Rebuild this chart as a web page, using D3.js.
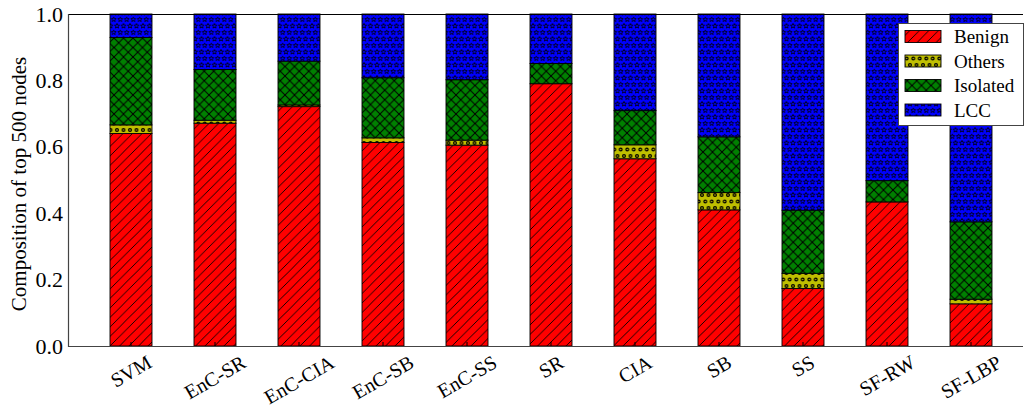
<!DOCTYPE html>
<html><head><meta charset="utf-8">
<script src="https://cdn.jsdelivr.net/npm/d3@7"></script>
<style>
body{margin:0;background:#fff}
svg{display:block}
</style>
</head><body>
<svg id="c" width="1028" height="409" font-family="'Liberation Serif', 'DejaVu Serif', serif"></svg>
<script>
const categories = ["SVM","EnC-SR","EnC-CIA","EnC-SB","EnC-SS","SR","CIA","SB","SS","SF-RW","SF-LBP"];
const benign   = [0.640, 0.671, 0.721, 0.613, 0.605, 0.790, 0.564, 0.410, 0.173, 0.434, 0.127];
const others   = [0.026, 0.009, 0.005, 0.014, 0.015, 0.000, 0.042, 0.052, 0.046, 0.000, 0.014];
const isolated = [0.263, 0.153, 0.132, 0.181, 0.182, 0.061, 0.103, 0.168, 0.190, 0.064, 0.233];
const lcc      = [0.071, 0.167, 0.142, 0.192, 0.198, 0.149, 0.291, 0.370, 0.591, 0.502, 0.626];
const seriesNames = ["Benign","Others","Isolated","LCC"];
const yTicks = [0.0, 0.2, 0.4, 0.6, 0.8, 1.0];
const yLabel = "Composition of top 500 nodes";

const FONT = "'Liberation Serif', 'DejaVu Serif', serif";
const colors = {Benign:"#ff0000", Others:"#bfbf00", Isolated:"#008000", LCC:"#0000ff"};
const hatchIds = {Benign:"h-diag", Others:"h-circ", Isolated:"h-cross", LCC:"h-star"};

const svg = d3.select("#c");
const L = 68, R = 1034, T = 14, B = 346;

const x = d3.scaleBand().domain(categories).range([L, R]).paddingInner(0.5).paddingOuter(0.5);
const y = d3.scaleLinear().domain([0, 1]).range([B, T]);

// patterns
const defs = svg.append("defs");
const s = 9.5;
defs.append("pattern").attr("id","h-diag").attr("patternUnits","userSpaceOnUse")
  .attr("width",s).attr("height",s)
  .append("path").attr("d",`M0,${s} L${s},0 M-2,2 L2,-2 M${s-2},${s+2} L${s+2},${s-2}`)
  .attr("stroke","#000").attr("stroke-width",0.9).attr("fill","none");
defs.append("pattern").attr("id","h-cross").attr("patternUnits","userSpaceOnUse")
  .attr("width",s).attr("height",s)
  .append("path").attr("d",`M-1,-1 L${s+1},${s+1} M-1,${s+1} L${s+1},-1`)
  .attr("stroke","#000").attr("stroke-width",1).attr("fill","none");

function starPath(cx, cy, r) {
  const pts = [];
  for (let k = 0; k < 10; k++) {
    const rr = k % 2 === 0 ? r : r * 0.42;
    const a = -Math.PI/2 + k * Math.PI/5;
    pts.push([cx + rr*Math.cos(a), cy + rr*Math.sin(a)]);
  }
  return "M" + pts.map(p => p[0].toFixed(2)+","+p[1].toFixed(2)).join("L") + "Z";
}
const sw = 6.5, sh = 13;
const shapePts = [[0,0],[sw,0],[0,sh],[sw,sh],[sw/2,sh/2]];
const pStar = defs.append("pattern").attr("id","h-star").attr("patternUnits","userSpaceOnUse")
  .attr("width",sw).attr("height",sh);
shapePts.forEach(p => pStar.append("path").attr("d", starPath(p[0], p[1], 2.6))
  .attr("fill","none").attr("stroke","#000").attr("stroke-width",0.8));
const pCirc = defs.append("pattern").attr("id","h-circ").attr("patternUnits","userSpaceOnUse")
  .attr("width",sw).attr("height",sh);
shapePts.forEach(p => pCirc.append("circle").attr("cx",p[0]).attr("cy",p[1]).attr("r",1.4)
  .attr("fill","none").attr("stroke","#000").attr("stroke-width",1.2));

// stacked data
const rows = categories.map((c, i) => ({cat:c, Benign:benign[i], Others:others[i], Isolated:isolated[i], LCC:lcc[i]}));
const stack = d3.stack().keys(seriesNames)(rows);

const g = svg.append("g");
stack.forEach(layer => {
  const name = layer.key;
  layer.forEach(d => {
    const y0 = y(d[0]), y1 = y(Math.min(d[1], 1));
    const h = y0 - y1;
    if (h <= 0.01) return;
    g.append("rect").attr("x", x(d.data.cat)).attr("y", y1).attr("width", x.bandwidth()).attr("height", h)
      .attr("fill", colors[name]);
    g.append("rect").attr("x", x(d.data.cat)).attr("y", y1).attr("width", x.bandwidth()).attr("height", h)
      .attr("fill", `url(#${hatchIds[name]})`).attr("stroke","#000").attr("stroke-width",0.9);
  });
});

// x tick marks (inward)
categories.forEach(c => {
  const cx = x(c) + x.bandwidth()/2;
  svg.append("line").attr("x1",cx).attr("x2",cx).attr("y1",B).attr("y2",B-4)
    .attr("stroke","#000").attr("stroke-width",1);
});

// spines
svg.append("line").attr("x1",L).attr("x2",1023).attr("y1",T+0.5).attr("y2",T+0.5).attr("stroke","#000").attr("stroke-width",1.2);
svg.append("line").attr("x1",L).attr("x2",1023).attr("y1",B+0.5).attr("y2",B+0.5).attr("stroke","#444").attr("stroke-width",1.2);
svg.append("line").attr("x1",L+0.5).attr("x2",L+0.5).attr("y1",T).attr("y2",B+1).attr("stroke","#444").attr("stroke-width",1.2);

function txt(sel) { return sel.append("text").attr("font-family", FONT).attr("fill","#000"); }

// y tick labels
yTicks.forEach(t => {
  txt(svg).attr("x", L-5).attr("y", y(t)).attr("text-anchor","end")
    .attr("dominant-baseline","central").attr("font-size",22).text(t.toFixed(1));
});

// y axis label
txt(svg).attr("transform","translate(19,184) rotate(-90)")
  .attr("text-anchor","middle").attr("dominant-baseline","central").attr("font-size",21).text(yLabel);

// x tick labels rotated 30deg, centered, top-aligned
categories.forEach(c => {
  const cx = x(c) + x.bandwidth()/2;
  const t = txt(svg).attr("font-size",20).attr("text-anchor","middle")
    .attr("dominant-baseline","central").text(c);
  const w = t.node().getComputedTextLength();
  const hgt = 17;
  const bh = w*0.5 + hgt*0.866;
  const cy = 353 + bh/2;
  t.attr("transform", `translate(${cx},${cy}) rotate(-30)`);
});

// legend
const lg = svg.append("g");
lg.append("rect").attr("x",898.5).attr("y",23.5).attr("width",125).attr("height",102)
  .attr("fill","#fff").attr("stroke","#444").attr("stroke-width",1);
const rowY = [36.5, 61, 85.5, 110];
seriesNames.forEach((n, i) => {
  lg.append("rect").attr("x",905).attr("y",rowY[i]-6).attr("width",36).attr("height",12).attr("fill",colors[n]);
  lg.append("rect").attr("x",905).attr("y",rowY[i]-6).attr("width",36).attr("height",12)
    .attr("fill",`url(#${hatchIds[n]})`).attr("stroke","#000").attr("stroke-width",0.9);
  txt(lg).attr("x",954).attr("y",rowY[i]).attr("dominant-baseline","central")
    .attr("font-size",19).text(n);
});
</script>
</body></html>
